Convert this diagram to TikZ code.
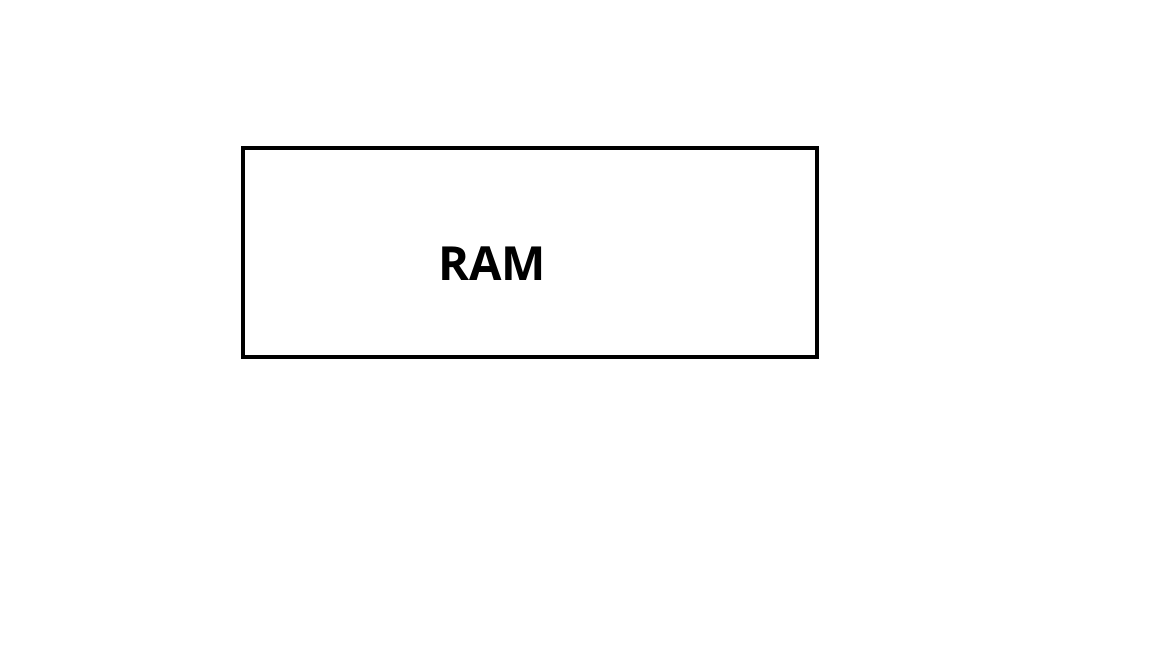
\documentclass[tikz,border=0pt]{standalone}
\usepackage{fontspec}
\setmainfont{Open Sans}
\usepackage{tikz}
\definecolor{boxline}{gray}{0}

\begin{document}
\begin{tikzpicture}[x=1pt,y=1pt]
  \useasboundingbox (0,0) rectangle (1152,648);
  \fill[white] (0,0) rectangle (1152,648);

  \draw[boxline,line width=4pt] (243,291) rectangle (817,500);

  \node[font=\bfseries\fontsize{47}{56}\selectfont,text=boxline]
    (ram) at (492,384) {RAM};
\end{tikzpicture}
\end{document}
